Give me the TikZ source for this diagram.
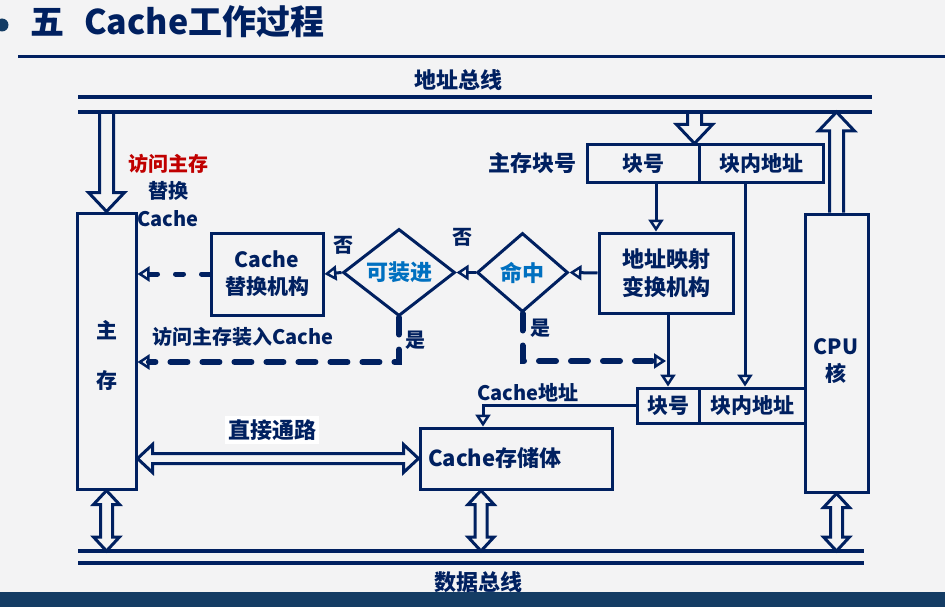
\documentclass[tikz,border=0pt]{standalone}
\usepackage{fontspec}
\setmainfont{Noto Sans CJK SC}
\usetikzlibrary{positioning,shapes.geometric,arrows.meta,calc}

\definecolor{navy}{RGB}{0,32,96}
\definecolor{hitblue}{RGB}{0,112,192}
\definecolor{accessred}{RGB}{192,0,0}
\definecolor{slidebg}{RGB}{243,243,244}
\definecolor{bandblue}{RGB}{20,60,100}

% hollow bus arrows (tail, tip)
\newcommand{\hollowdown}[2]{%
  \draw[hollow] let \p1=(#1), \p2=(#2) in
    (\x2-7pt,\y1) -- (\x2-7pt,\y2+19pt) -- (\x2-18pt,\y2+19pt) -- (\x2,\y2)
    -- (\x2+18pt,\y2+19pt) -- (\x2+7pt,\y2+19pt) -- (\x2+7pt,\y1);}
\newcommand{\hollowup}[2]{%
  \draw[hollow] let \p1=(#1), \p2=(#2) in
    (\x2-7pt,\y1) -- (\x2-7pt,\y2-19pt) -- (\x2-18pt,\y2-19pt) -- (\x2,\y2)
    -- (\x2+18pt,\y2-19pt) -- (\x2+7pt,\y2-19pt) -- (\x2+7pt,\y1);}
\newcommand{\hollowvv}[2]{%
  \draw[hollow] let \p1=(#1), \p2=(#2) in
    (\x1,\y1) -- (\x1+13pt,\y1-14pt) -- (\x1+6pt,\y1-14pt) -- (\x1+6pt,\y2+14pt)
    -- (\x1+13pt,\y2+14pt) -- (\x1,\y2) -- (\x1-13pt,\y2+14pt) -- (\x1-6pt,\y2+14pt)
    -- (\x1-6pt,\y1-14pt) -- (\x1-13pt,\y1-14pt) -- cycle;}
\newcommand{\hollowhh}[2]{%
  \draw[hollow] let \p1=(#1), \p2=(#2) in
    (\x1,\y1) -- (\x1+15pt,\y1+14pt) -- (\x1+15pt,\y1+5pt) -- (\x2-15pt,\y1+5pt)
    -- (\x2-15pt,\y1+14pt) -- (\x2,\y1) -- (\x2-15pt,\y1-14pt) -- (\x2-15pt,\y1-5pt)
    -- (\x1+15pt,\y1-5pt) -- (\x1+15pt,\y1-14pt) -- cycle;}

\begin{document}
\begin{tikzpicture}[x=1pt,y=-1pt,
  box/.style={draw=navy, line width=3pt, inner sep=0pt, text=navy,
    font=\fontsize{21}{27}\selectfont\bfseries, align=center},
  decide/.style={diamond, draw=navy, line width=3pt, inner sep=0pt, text=hitblue,
    font=\fontsize{22}{26}\selectfont\bfseries},
  txt/.style={text=navy, inner sep=1pt, font=\fontsize{20}{27.5}\selectfont\bfseries, align=center},
  conn/.style={navy, line width=3pt, -{Triangle[open,length=12pt,width=15pt,line width=2.5pt]}},
  dashconn/.style={navy, line width=6pt, line cap=round, dash pattern=on 17pt off 15pt,
    -{Triangle[open,length=12pt,width=15pt,line width=2.5pt]}},
  bus/.style={navy, line width=4pt},
  hollow/.style={navy, line width=3pt},
]
  \useasboundingbox (0,0) rectangle (945,607);
  \fill[slidebg] (0,0) rectangle (945,607);
  \fill[bandblue] (0,592) rectangle (945,607);

  % title
  \fill[bandblue] (2,25) circle (6.5);
  \node[anchor=west, inner sep=0pt, text=navy, font=\fontsize{34}{40}\selectfont\bfseries]
    (title) at (30,22) {五\hspace{20pt}Cache工作过程};
  \draw[navy, line width=3pt] (18,57) -- (945,57);

  % buses
  \draw[bus] (78,97) -- (872,97);
  \draw[bus] (78,112) -- (872,112);
  \draw[bus] (78,551) -- (864,551);
  \draw[bus] (78,563) -- (864,563);
  \node[txt, font=\fontsize{22}{26}\selectfont\bfseries] (abuslbl) at (458,80) {地址总线};
  \node[txt, font=\fontsize{22}{26}\selectfont\bfseries] (dbuslbl) at (478,582) {数据总线};

  % boxes
  \node[box, minimum width=59, minimum height=276] (mem) at (106.5,351) {};
  \node[box, minimum width=63, minimum height=278] (cpu) at (836.5,353) {};
  \node[box, minimum width=112, minimum height=82] (repl) at (267,274) {Cache\\替换机构};
  \node[decide, minimum width=112, minimum height=79] (canload) at (399,272.5) {可装进};
  \node[decide, minimum width=91, minimum height=79] (hit) at (522.5,272.5) {命中};
  \node[box, minimum width=134, minimum height=80, font=\fontsize{22}{28}\selectfont\bfseries]
    (map) at (666,273) {地址映射\\变换机构};
  \node[box, minimum width=112, minimum height=37] (blk1) at (643,163.5) {块号};
  \node[box, minimum width=124, minimum height=37] (off1) at (761,163.5) {块内地址};
  \node[box, minimum width=62, minimum height=35] (blk2) at (668,405.5) {块号};
  \node[box, minimum width=106, minimum height=35] (off2) at (752,405.5) {块内地址};
  \node[box, minimum height=61, text width=176, align=left, inner xsep=8pt,
    font=\fontsize{22}{26}\selectfont\bfseries] (store) at (516,458.5) {Cache存储体};

  % labels
  \node[txt, font=\fontsize{21}{50}\selectfont\bfseries] (memname) at (107,355) {主\\存};
  \node[txt, font=\fontsize{21}{27}\selectfont\bfseries] (cpuname) at (836,361) {CPU\\核};
  \node[txt] (memlbl) at (168,190) {{\color{accessred}访问主存}\\替换\\Cache};
  \node[txt, left=8pt of blk1, font=\fontsize{22}{26}\selectfont\bfseries] (blknolbl) {主存块号};
  \node[txt] (no1) at (343,245) {否};
  \node[txt] (no2) at (462,237) {否};
  \node[txt] (yes1) at (415,340) {是};
  \node[txt] (yes2) at (540,328) {是};
  \node[txt] (loadlbl) at (243,337) {访问主存装入Cache};
  \node[txt] (addrlbl) at (528,393) {Cache地址};
  \node[txt, fill=white, inner sep=3pt, font=\fontsize{22}{26}\selectfont\bfseries]
    (directlbl) at (272,430) {直接通路};

  % connectors
  \draw[conn] ([xshift=13pt]blk1.south) -- ([xshift=-10pt]map.north);
  \draw[conn] ([xshift=-16pt]off1.south) -- ([xshift=-16pt]off1.south |- off2.north);
  \draw[conn] (blk2.north |- map.south) -- (blk2.north);
  \draw[conn] (map.west) -- (hit.east);
  \draw[conn] (hit.west) -- (canload.east);
  \draw[conn] (canload.west) -- (repl.east);
  \draw[conn] (blk2.west) -| ([xshift=-33pt]store.north);
  \draw[dashconn, line width=5pt, dash pattern=on 8pt off 18pt] (repl.west) -- (repl.west -| mem.east);
  \draw[dashconn] (canload.south) |- (mem.east |- 0,362);
  \draw[dashconn] (hit.south) |- ([xshift=-2pt]blk2.north |- 0,361);

  % hollow bus arrows
  \hollowdown{mem.north |- 0,112}{mem.north}
  \hollowdown{693,112}{[xshift=-6pt]blk1.north east}
  \hollowup{cpu.north}{cpu.north |- 0,112}
  \hollowvv{mem.south}{mem.south |- 0,551}
  \hollowvv{[xshift=-35pt]store.south}{[xshift=-35pt]store.south |- 0,551}
  \hollowvv{cpu.south}{cpu.south |- 0,551}
  \hollowhh{mem.east |- store.west}{store.west}
\end{tikzpicture}
\end{document}
